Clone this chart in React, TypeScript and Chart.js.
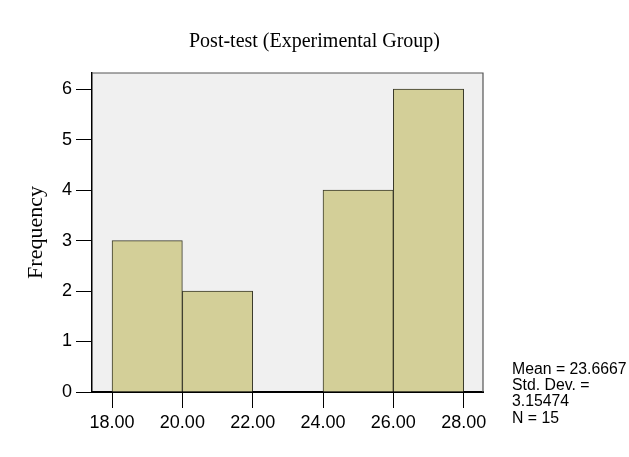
import React, { useEffect, useRef } from "react";
import { Chart, registerables } from "chart.js";

Chart.register(...registerables);

const binCenters = [19, 21, 23, 25, 27];
const frequencies = [3, 2, 0, 4, 6];
const xTickValues = [18, 20, 22, 24, 26, 28];
const yTickValues = [0, 1, 2, 3, 4, 5, 6];
const statsLines = ["Mean = 23.6667", "Std. Dev. =", "3.15474", "N = 15"];
const titleText = "Post-test (Experimental Group)";
const yTitleText = "Frequency";

const SANS = "'Liberation Sans', Arial, sans-serif";
const SERIF = "'Liberation Serif', 'Times New Roman', serif";

const decorPlugin = {
  id: "decor",
  beforeDraw(chart: any) {
    const { ctx, chartArea } = chart;
    ctx.save();
    ctx.fillStyle = "#ffffff";
    ctx.fillRect(0, 0, chart.width, chart.height);
    ctx.fillStyle = "#f0f0f0";
    ctx.fillRect(chartArea.left, chartArea.top, chartArea.right - chartArea.left, chartArea.bottom - chartArea.top);
    ctx.restore();
  },
  afterDraw(chart: any) {
    const { ctx, chartArea } = chart;
    ctx.save();
    ctx.strokeStyle = "#555555";
    ctx.lineWidth = 1.2;
    ctx.beginPath();
    ctx.moveTo(chartArea.left, chartArea.top);
    ctx.lineTo(chartArea.right, chartArea.top);
    ctx.lineTo(chartArea.right, chartArea.bottom);
    ctx.stroke();
    ctx.fillStyle = "#000000";
    ctx.font = `15.8px ${SANS}`;
    ctx.textBaseline = "middle";
    ctx.textAlign = "left";
    statsLines.forEach((line, i) => {
      ctx.fillText(line, 512, 369.5 + i * 16.3);
    });
    ctx.restore();
  },
};

export default function App() {
  const canvasRef = useRef<HTMLCanvasElement | null>(null);

  useEffect(() => {
    document.body.style.margin = "0";
    const canvas = canvasRef.current;
    if (!canvas) return;
    const chart = new Chart(canvas, {
      type: "bar",
      data: {
        datasets: [
          {
            data: binCenters.map((x, i) => ({ x, y: frequencies[i] })),
            backgroundColor: "#d3cf98",
            borderColor: "#3a3a2a",
            borderWidth: 1,
            barPercentage: 1,
            categoryPercentage: 1,
            yAxisID: "y",
          },
        ],
      },
      options: {
        animation: false,
        responsive: false,
        maintainAspectRatio: false,
        layout: { padding: { left: 0, right: 0, top: 0, bottom: 0 } },
        plugins: {
          legend: { display: false },
          tooltip: { enabled: false },
          title: {
            display: true,
            text: titleText,
            color: "#000000",
            font: { family: SERIF, size: 20, weight: "normal" },
            padding: { top: 30, bottom: 19 },
          },
        },
        scales: {
          x: {
            type: "linear",
            offset: false,
            min: 17.43,
            max: 28.55,
            afterBuildTicks: (scale: any) => {
              scale.ticks = xTickValues.map((v) => ({ value: v }));
            },
            afterFit: (scale: any) => {
              scale.height = 65;
            },
            ticks: {
              color: "#000000",
              font: { family: SANS, size: 18 },
              padding: 4,
              maxRotation: 0,
              autoSkip: false,
              callback: (v: any) => Number(v).toFixed(2),
            },
            grid: {
              drawOnChartArea: false,
              drawTicks: true,
              tickLength: 16,
              color: "#000000",
              offset: false,
            },
            border: { display: true, color: "#000000", width: 2 },
          },
          y: {
            type: "linear",
            min: 0,
            max: 6.32,
            afterBuildTicks: (scale: any) => {
              scale.ticks = yTickValues.map((v) => ({ value: v }));
            },
            afterFit: (scale: any) => {
              scale.width = 92;
            },
            ticks: {
              color: "#000000",
              font: { family: SANS, size: 18 },
              padding: 4,
            },
            grid: {
              drawOnChartArea: false,
              drawTicks: true,
              tickLength: 16,
              color: "#000000",
            },
            border: { display: true, color: "#000000", width: 1.5 },
            title: {
              display: true,
              text: yTitleText,
              color: "#000000",
              font: { family: SERIF, size: 22, weight: "normal" },
              padding: { top: 23, bottom: 0 },
            },
          },
          yRightSpace: {
            type: "linear",
            position: "right",
            display: true,
            min: 0,
            max: 6.32,
            ticks: { display: false },
            grid: { display: false, drawTicks: false },
            border: { display: false },
            afterFit: (scale: any) => {
              scale.width = 146;
            },
          },
        },
      },
      plugins: [decorPlugin],
    });
    return () => chart.destroy();
  }, []);

  return (
    <div style={{ position: "relative", width: 629, height: 457 }}>
      <canvas ref={canvasRef} width={629} height={457} style={{ width: 629, height: 457 }} />
    </div>
  );
}
